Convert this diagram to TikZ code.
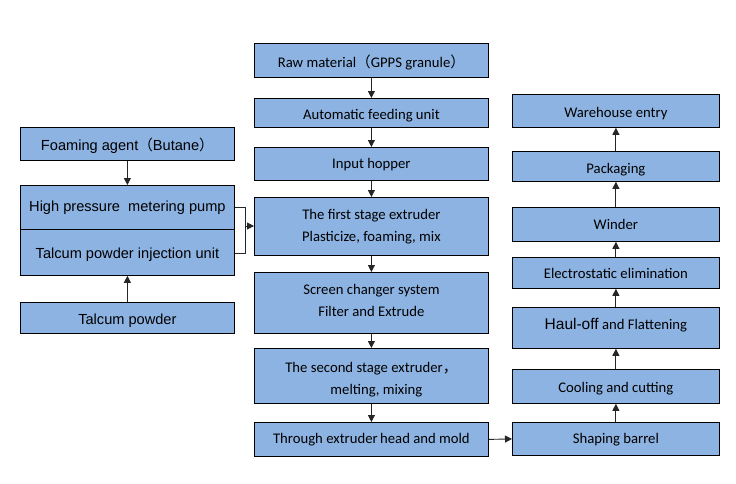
\documentclass[tikz,border=0pt]{standalone}
\usepackage{fontspec}
\setmainfont{Carlito}
\newfontfamily\arialf{Liberation Sans}
\newfontfamily\cjk{Noto Sans CJK SC}
\usetikzlibrary{arrows.meta}
\definecolor{boxblue}{HTML}{8DB3E2}
\newcommand\dn[2]{\raisebox{-#1pt}[\height][\depth]{#2}}
\begin{document}
\begin{tikzpicture}[x=1pt,y=-1pt,
  box/.style={draw=black, line width=0.8pt, fill=boxblue, inner sep=0pt, anchor=north west, align=center,
    font=\fontsize{14.7}{22}\selectfont},
  lbox/.style={box, minimum width=214pt, font=\arialf\fontsize{14.6}{17}\selectfont},
  mbox/.style={box, minimum width=234pt},
  rbox/.style={box, minimum width=207pt},
  arr/.style={draw=black!85, line width=0.9pt, -{Triangle[width=7pt,length=7pt]}}]
\useasboundingbox (0,0) rectangle (736,483);
% left column
\node[lbox, minimum height=33pt] (foam) at (20,127) {\dn{2}{Foaming agent{\cjk （}Butane{\cjk ）}}};
\node[lbox, minimum height=44pt] (hp) at (20,185) {High pressure\ \ metering pump};
\node[lbox, minimum height=46pt] (tp) at (20,229) {\dn{2}{Talcum powder\ injection\ unit}};
\node[lbox, minimum height=31pt] (talc) at (20,302) {\dn{3}{Talcum powder}};
% middle column
\node[mbox, minimum height=34pt] (raw) at (254,43) {\dn{2}{Raw material{\cjk （}GPPS granule{\cjk ）}}};
\node[mbox, minimum height=29pt] (feed) at (254,98) {\dn{3}{Automatic feeding unit}};
\node[mbox, minimum height=33pt] (hop) at (254,147) {\dn{1}{Input hopper}};
\node[mbox, minimum height=58pt] (first) at (254,197) {The first stage extruder\\Plasticize, foaming, mix};
\node[mbox, minimum height=61pt] (screen) at (254,272) {Screen changer system\\Filter and Extrude\\[-17pt]\mbox{}};
\node[mbox, minimum height=55pt] (second) at (254,348) {The second stage extruder{\cjk ，}\\\hspace*{10pt}melting, mixing\\[-27pt]\mbox{}};
\node[mbox, minimum height=34pt] (head) at (254,422) {Through extruder\,head and mold};
% right column
\node[rbox, minimum height=33pt] (ware) at (512,94) {\dn{3}{Warehouse entry}};
\node[rbox, minimum height=30pt] (pack) at (512,151) {\dn{3}{Packaging}};
\node[rbox, minimum height=34pt] (wind) at (512,207) {Winder};
\node[rbox, minimum height=31pt] (elec) at (512,257) {\dn{1}{Electrostatic elimination}};
\node[rbox, minimum height=41pt] (haul) at (512,307) {\dn{-3}{{\arialf\fontsize{15.5}{17}\selectfont Haul-off} and Flattening}};
\node[rbox, minimum height=34pt] (cool) at (512,369) {\dn{2}{Cooling and cutting}};
\node[rbox, minimum height=33pt] (shape) at (512,422) {\dn{1}{Shaping barrel}};
% connectors
\draw[arr] (foam.south) -- (hp.north);
\draw[arr] (talc.north) -- (tp.south);
\coordinate (bk1) at (245,207);
\coordinate (bk2) at (245,253);
\coordinate (bkm) at (245,226);
\draw[draw=black!85, line width=0.9pt] (hp.east |- bk1) -- (bk1) -- (bk2) -- (tp.east |- bk2);
\draw[arr] (bkm) -- (first.west |- bkm);
\draw[arr] (raw.south) -- (feed.north);
\draw[arr] (feed.south) -- (hop.north);
\draw[arr] (hop.south) -- (first.north);
\draw[arr] (first.south) -- (screen.north);
\draw[arr] (screen.south) -- (second.north);
\draw[arr] (second.south) -- (head.north);
\draw[arr] (head.east) -- (shape.west);
\draw[arr] (shape.north) -- (cool.south);
\draw[arr] (cool.north) -- (haul.south);
\draw[arr] (haul.north) -- (elec.south);
\draw[arr] (elec.north) -- (wind.south);
\draw[arr] (wind.north) -- (pack.south);
\draw[arr] (pack.north) -- (ware.south);
\end{tikzpicture}
\end{document}
